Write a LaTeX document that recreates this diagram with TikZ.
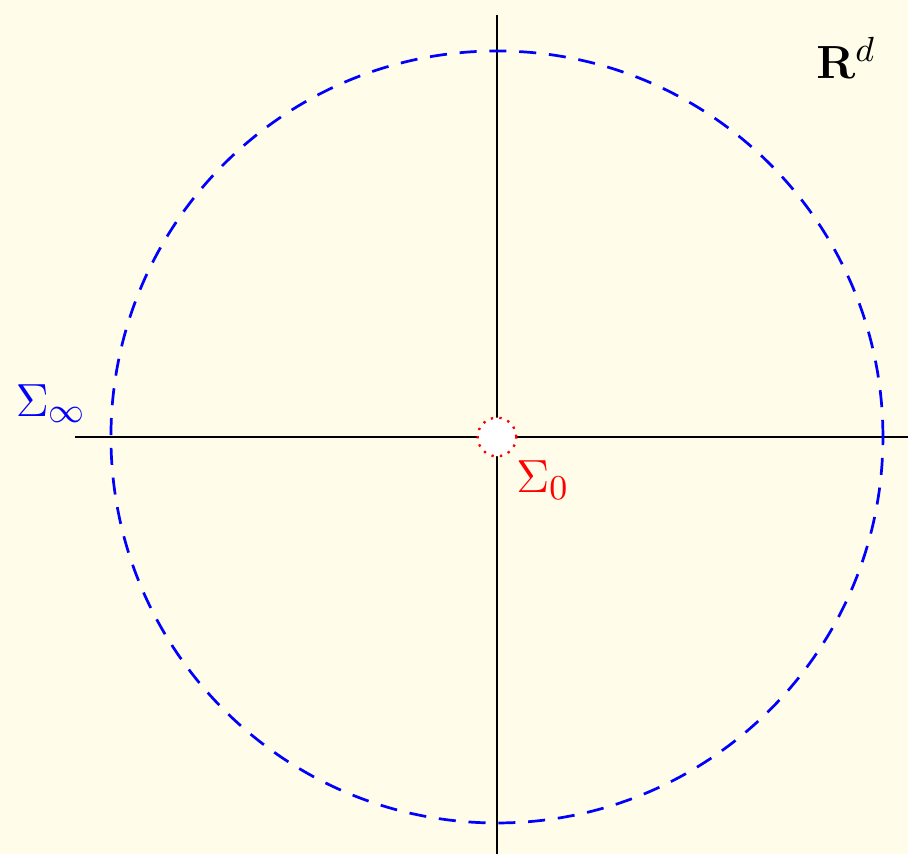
\documentclass[tikz,border=0pt]{standalone}
\usepackage{amsmath}
\usepackage{tikz}
\usetikzlibrary{positioning, calc}
\definecolor{bgcream}{RGB}{255,252,233}
\definecolor{myblue}{RGB}{0,0,255}
\definecolor{myred}{RGB}{255,0,0}
\tikzset{
  axisline/.style={line width=0.65pt, color=black},
  farsphere/.style={draw=myblue, line width=0.7pt, dash pattern=on 4.4pt off 3.3pt},
  nearsphere/.style={draw=myred, fill=white, line width=0.6pt, dash pattern=on 0.6pt off 1.6pt},
  lbl/.style={inner sep=0pt, anchor=base west, font=\fontsize{13.2}{16}\selectfont}
}

\begin{document}
\begin{tikzpicture}
  % Background and margins
  \fill[bgcream] (-4.506,-3.781) rectangle (3.727,3.962);
  \useasboundingbox (-4.506,-3.781) rectangle (3.727,3.962);
  % Axes
  \coordinate (xl) at (-3.826,0);
  \coordinate (xr) at (3.727,0);
  \coordinate (yt) at (0,3.826);
  \coordinate (yb) at (0,-3.781);
  \draw[axisline] (xl) -- (xr);
  \draw[axisline] (yb) -- (yt);
  % Sphere at infinity
  \draw[farsphere] (0,0) circle (3.5);
  % Small sphere round the origin
  \node[nearsphere, circle, minimum size=0.35cm, inner sep=0pt] (origin) at (0,0) {};
  % Labels
  \node[lbl, text=myblue] (siginf) at (-4.37,0.19) {$\Sigma_\infty$};
  \node[lbl, text=myred] (sigzero) at (0.17,-0.50) {$\Sigma_0$};
  \node[lbl] (space) at (2.89,3.25) {$\mathbf{R}^d$};
\end{tikzpicture}
\end{document}
